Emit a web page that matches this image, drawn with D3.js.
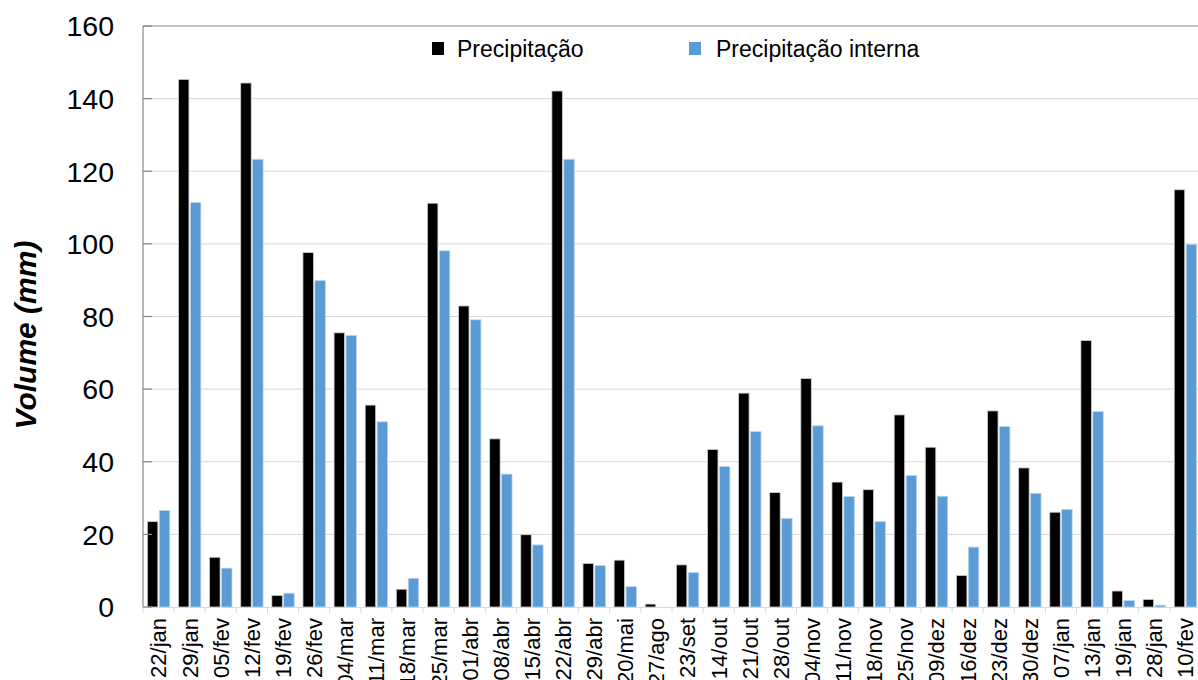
<!DOCTYPE html>
<html>
<head>
<meta charset="utf-8">
<script src="https://cdn.jsdelivr.net/npm/d3@7/dist/d3.min.js"></script>
<style>
  html, body { margin: 0; padding: 0; background: #fff; }
  svg { display: block; font-family: "Liberation Sans", Arial, sans-serif; }
</style>
</head>
<body>
<svg id="chart" width="1198" height="680"></svg>
<script>
const categories = ["22/jan","29/jan","05/fev","12/fev","19/fev","26/fev","04/mar","11/mar","18/mar","25/mar",
  "01/abr","08/abr","15/abr","22/abr","29/abr","20/mai","27/ago","23/set","14/out","21/out",
  "28/out","04/nov","11/nov","18/nov","25/nov","09/dez","16/dez","23/dez","30/dez","07/jan",
  "13/jan","19/jan","28/jan","10/fev"];
const precipitacao = [23.5,145.3,13.7,144.3,3.2,97.6,75.5,55.6,4.9,111.2,
  82.9,46.3,19.9,142.1,12.0,12.9,0.8,11.6,43.4,58.9,
  31.5,62.9,34.4,32.3,52.9,44.0,8.7,54.0,38.3,26.1,
  73.4,4.4,2.1,114.9];
const precipitacaoInterna = [26.6,111.4,10.7,123.3,3.8,89.9,74.8,51.0,7.9,98.1,
  79.1,36.6,17.1,123.3,11.4,5.6,0,9.5,38.7,48.3,
  24.4,49.9,30.4,23.5,36.2,30.5,16.5,49.7,31.3,26.9,
  53.8,1.8,0.5,99.9];
const seriesNames = ["Precipitação","Precipitação interna"];
const seriesColors = ["#000000","#5b9bd5"];
const yTicks = [0,20,40,60,80,100,120,140,160];

(function () {
const svg = d3.select("#chart");
const mLeft = 143, mTop = 26, mRight = 1201, mBottom = 607;

const x0 = d3.scaleBand().domain(categories).range([mLeft, mRight]).paddingInner(0.28).paddingOuter(0.14);
const x1 = d3.scaleBand().domain(seriesNames).range([0, x0.bandwidth()]).paddingInner(0.12);
const y = d3.scaleLinear().domain([0,160]).range([mBottom, mTop]);

// gridlines
svg.append("g").selectAll("line").data(yTicks.filter(d => d > 0 && d < 160)).join("line")
  .attr("x1", mLeft).attr("x2", mRight)
  .attr("y1", d => y(d)).attr("y2", d => y(d))
  .attr("stroke", "#d9d9d9").attr("stroke-width", 1);

// top border
svg.append("line").attr("x1", mLeft).attr("x2", mRight).attr("y1", y(160)).attr("y2", y(160))
  .attr("stroke", "#868686").attr("stroke-width", 1.2);

// x axis
const xAxis = svg.append("g").attr("transform", `translate(0,${mBottom})`);
xAxis.append("line").attr("x1", mLeft).attr("x2", mRight).attr("y1", 0.5).attr("y2", 0.5)
  .attr("stroke", "#d9d9d9").attr("stroke-width", 1.2);
const step = x0.step();
xAxis.selectAll("line.tk").data(categories).join("line").attr("class","tk")
  .attr("x1", d => x0(d) - x0.paddingOuter()*step).attr("x2", d => x0(d) - x0.paddingOuter()*step)
  .attr("y1", 0).attr("y2", 6).attr("stroke", "#d9d9d9").attr("stroke-width", 1);
xAxis.selectAll("text").data(categories).join("text")
  .attr("transform", d => `translate(${x0(d) + x0.bandwidth()/2},11) rotate(-90)`)
  .attr("text-anchor", "end").attr("dy", "0.36em")
  .attr("font-size", 22).attr("fill", "#000")
  .text(d => d);

// bars
const groups = svg.append("g").selectAll("g").data(categories).join("g")
  .attr("transform", d => `translate(${x0(d)},0)`);
const seriesData = [precipitacao, precipitacaoInterna];
groups.selectAll("rect").data((d, i) => seriesNames.map((s, k) => ({s, k, v: seriesData[k][i]})))
  .join("rect")
  .attr("x", d => x1(d.s))
  .attr("width", x1.bandwidth())
  .attr("y", d => y(d.v))
  .attr("height", d => y(0) - y(d.v))
  .attr("fill", d => seriesColors[d.k])
  .attr("stroke", d => d.v > 0 ? (d.k === 0 ? "#cfcfcf" : "#bdd7ee") : "none")
  .attr("stroke-width", 0.8);

// y axis
const yAxis = svg.append("g");
yAxis.append("line").attr("x1", mLeft).attr("x2", mLeft).attr("y1", mTop).attr("y2", mBottom)
  .attr("stroke", "#868686").attr("stroke-width", 1.2);
yAxis.selectAll("line.tk").data(yTicks).join("line").attr("class","tk")
  .attr("x1", mLeft).attr("x2", mLeft + 9)
  .attr("y1", d => y(d)).attr("y2", d => y(d))
  .attr("stroke", "#868686").attr("stroke-width", 1.2);
yAxis.selectAll("text").data(yTicks).join("text")
  .attr("x", 114).attr("y", d => y(d)).attr("dy", "0.36em")
  .attr("text-anchor", "end").attr("font-size", 28.5).attr("fill", "#000")
  .text(d => d);

// y title
svg.append("text")
  .attr("transform", "translate(36,335) rotate(-90)")
  .attr("text-anchor", "middle")
  .attr("font-size", 30).attr("font-weight", "bold").attr("font-style", "italic")
  .text("Volume (mm)");

// legend
const legendX = [432, 689];
const lg = svg.append("g").selectAll("g").data(seriesNames).join("g")
  .attr("transform", (d, i) => `translate(${legendX[i]},42)`);
lg.append("rect").attr("width", 12).attr("height", 13)
  .attr("fill", (d, i) => seriesColors[i]);
lg.append("text").attr("x", (d, i) => i === 0 ? 25 : 27).attr("y", 14.7)
  .attr("font-size", 23).attr("fill", "#000").text(d => d);
})();
</script>
</body>
</html>
